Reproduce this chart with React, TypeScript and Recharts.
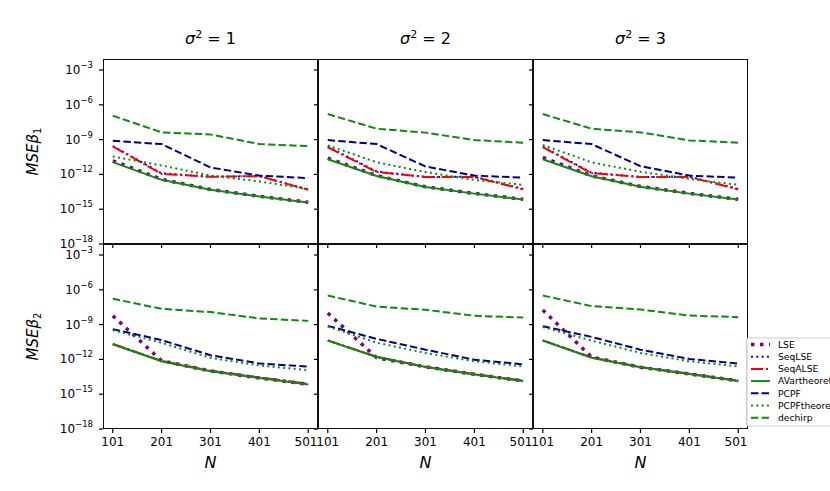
import { LineChart, Line, XAxis, YAxis } from "recharts";

// sample sizes on the x axis
const N = [101, 201, 301, 401, 501];
const Y_TICKS = [1e-18, 1e-15, 1e-12, 1e-9, 1e-6, 1e-3];

// each series: one row per panel, order
// [beta1 s2=1, beta1 s2=2, beta1 s2=3, beta2 s2=1, beta2 s2=2, beta2 s2=3]
const LSE = [
  [1.5e-11, 3.8e-13, 5.0e-14, 1.3e-14, 4.0e-15],
  [2.5e-11, 7.9e-13, 8.5e-14, 2.3e-14, 7.1e-15],
  [2.9e-11, 7.6e-13, 9.1e-14, 2.3e-14, 7.1e-15],
  [5.8e-9, 7.6e-13, 1.0e-13, 2.5e-14, 7.1e-15],
  [1.0e-8, 1.4e-12, 2.3e-13, 5.2e-14, 1.4e-14],
  [1.8e-8, 1.6e-12, 2.1e-13, 5.6e-14, 1.4e-14],
];
const SEQ_LSE = [
  [2.8e-10, 1.25e-12, 6.3e-13, 7.1e-13, 5.0e-14],
  [2.5e-10, 1.8e-12, 6.0e-13, 6.3e-13, 5.6e-14],
  [2.5e-10, 1.4e-12, 6.0e-13, 6.3e-13, 5.6e-14],
  [2.1e-11, 7.2e-13, 1.0e-13, 2.7e-14, 7.6e-15],
  [4.3e-11, 1.65e-12, 2.25e-13, 5.2e-14, 1.42e-14],
  [4.3e-11, 1.45e-12, 2.15e-13, 5.6e-14, 1.42e-14],
];
const SEQ_ALSE = [
  [2.6e-10, 1.1e-12, 6.3e-13, 7.1e-13, 4.7e-14],
  [2.2e-10, 1.6e-12, 6.0e-13, 6.0e-13, 5.1e-14],
  [2.2e-10, 1.26e-12, 6.0e-13, 6.0e-13, 5.1e-14],
  [2.2e-11, 7.4e-13, 1.05e-13, 2.8e-14, 7.9e-15],
  [4.4e-11, 1.7e-12, 2.3e-13, 5.4e-14, 1.45e-14],
  [4.4e-11, 1.5e-12, 2.2e-13, 5.8e-14, 1.45e-14],
];
const AVAR = [
  [1.15e-11, 3.4e-13, 4.7e-14, 1.26e-14, 3.8e-15],
  [2.0e-11, 7.4e-13, 8.1e-14, 2.2e-14, 6.9e-15],
  [2.0e-11, 6.9e-13, 8.7e-14, 2.2e-14, 6.9e-15],
  [2.0e-11, 6.9e-13, 9.5e-14, 2.5e-14, 6.8e-15],
  [4.2e-11, 1.6e-12, 2.2e-13, 5.1e-14, 1.4e-14],
  [4.2e-11, 1.4e-12, 2.1e-13, 5.5e-14, 1.4e-14],
];
const PCPF = [
  [7.9e-10, 4.1e-10, 4.0e-12, 7.9e-13, 4.8e-13],
  [9.1e-10, 4.1e-10, 4.8e-12, 7.9e-13, 5.2e-13],
  [9.1e-10, 4.1e-10, 5.1e-12, 7.9e-13, 5.2e-13],
  [4.1e-10, 4.6e-11, 2.3e-12, 4.4e-13, 2.4e-13],
  [7.8e-10, 5.9e-11, 6.9e-12, 9.5e-13, 3.8e-13],
  [7.2e-10, 8.7e-11, 6.9e-12, 1.1e-12, 4.3e-13],
];
const PCPF_THEO = [
  [3.5e-11, 5.9e-12, 7.9e-13, 2.5e-13, 5.4e-14],
  [3.2e-10, 1.1e-11, 1.6e-12, 3.3e-13, 1.26e-13],
  [3.4e-10, 1.1e-11, 1.7e-12, 4.1e-13, 1.26e-13],
  [3.3e-10, 2.7e-11, 1.35e-12, 3.0e-13, 1.2e-13],
  [6.8e-10, 2.8e-11, 3.6e-12, 6.9e-13, 2.5e-13],
  [6.3e-10, 4.2e-11, 3.6e-12, 6.9e-13, 2.5e-13],
];
const DECHIRP = [
  [1.15e-7, 4.2e-9, 2.8e-9, 4.1e-10, 2.75e-10],
  [1.6e-7, 8.7e-9, 4.0e-9, 9.1e-10, 5.4e-10],
  [1.6e-7, 8.7e-9, 4.2e-9, 8.5e-10, 5.4e-10],
  [1.7e-7, 2.3e-8, 1.2e-8, 3.4e-9, 2.1e-9],
  [3.2e-7, 3.6e-8, 1.9e-8, 5.8e-9, 4.1e-9],
  [3.2e-7, 3.9e-8, 2.0e-8, 6.0e-9, 4.4e-9],
];

const SIGMAS = ["1", "2", "3"];

const SERIES = [
  { key: "LSE", values: LSE, color: "#800080", width: 3.5, dash: "3.5 5.5" },
  { key: "SeqLSE", values: SEQ_LSE, color: "#0000ff", width: 2, dash: "2 3.3" },
  { key: "SeqALSE", values: SEQ_ALSE, color: "#ff0000", width: 2, dash: "12 3 2 3" },
  { key: "AVartheoretical", values: AVAR, color: "#108a10", width: 2, dash: undefined },
  { key: "PCPF", values: PCPF, color: "#00008b", width: 2, dash: "7.4 3.2" },
  { key: "PCPFtheoretical", values: PCPF_THEO, color: "#108a10", width: 2, dash: "2 3.3" },
  { key: "dechirp", values: DECHIRP, color: "#108a10", width: 2, dash: "7.4 3.2" },
];

const FONT = "DejaVu Sans, sans-serif";
const PW = 215;
const PH = 185;
const YW = 60;
const XH = 40;
const LEFTS = [103, 318, 533];
const TOPS = [59, 244];

function YTick(props: any) {
  const { x, y, payload, show } = props;
  if (!show) return <g />;
  const exp = Math.round(Math.log10(payload.value));
  return (
    <text x={x} y={y + 4} textAnchor="end" fontSize={12} fill="#000" fontFamily={FONT}>
      <tspan>10</tspan>
      <tspan dy={-6} fontSize={8.5}>{"\u2212" + Math.abs(exp)}</tspan>
    </text>
  );
}

function XTick(props: any) {
  const { x, y, payload, show } = props;
  if (!show) return <g />;
  return (
    <text x={x} y={y} dy="0.75em" textAnchor="middle" fontSize={12} fill="#000" fontFamily={FONT}>
      {payload.value}
    </text>
  );
}

function Panel({ idx, row, col }: { idx: number; row: number; col: number }) {
  const data = N.map((n, i) => {
    const r: any = { n };
    SERIES.forEach((s) => (r[s.key] = s.values[idx][i]));
    return r;
  });
  const left = LEFTS[col];
  const top = TOPS[row];
  return (
    <>
      <div style={{ position: "absolute", left: left - YW, top }}>
        <LineChart width={YW + PW} height={PH + XH} data={data} margin={{ top: 0, right: 0, bottom: 0, left: 0 }}>
          <XAxis
            dataKey="n"
            type="number"
            domain={[81, 521]}
            ticks={N}
            allowDataOverflow
            height={XH}
            axisLine={false}
            tickSize={4}
            tickMargin={4}
            tickLine={{ stroke: "#000", strokeWidth: 1.2 }}
            tick={<XTick show={row === 1} />}
          />
          <YAxis
            type="number"
            scale="log"
            domain={[1e-18, Math.pow(10, -2.05)]}
            ticks={Y_TICKS}
            allowDataOverflow
            width={YW}
            axisLine={false}
            tickSize={4}
            tickMargin={6}
            tickLine={{ stroke: "#000", strokeWidth: 1.2 }}
            tick={<YTick show={col === 0} />}
          />
          {SERIES.map((s) => (
            <Line
              key={s.key}
              dataKey={s.key}
              stroke={s.color}
              strokeWidth={s.width}
              strokeDasharray={s.dash}
              dot={false}
              activeDot={false}
              isAnimationActive={false}
            />
          ))}
        </LineChart>
      </div>
      <div
        style={{
          position: "absolute",
          left,
          top,
          width: PW,
          height: PH,
          border: "1.3px solid #111",
          boxSizing: "border-box",
          pointerEvents: "none",
        }}
      />
    </>
  );
}

function Legend() {
  const x0 = 746.5;
  const y0 = 338;
  return (
    <g>
      <rect x={x0} y={y0} width={110} height={88} fill="#fff" fillOpacity={0.9} stroke="#cccccc" strokeWidth={1} rx={2} />
      {SERIES.map((s, i) => {
        const y = 344.5 + i * 12.2;
        return (
          <g key={s.key}>
            <line x1={751} x2={770} y1={y} y2={y} stroke={s.color} strokeWidth={s.width} strokeDasharray={s.dash} />
            <text x={778} y={y + 3.3} fontSize={9.2} fontFamily={FONT} fill="#000">
              {s.key}
            </text>
          </g>
        );
      })}
    </g>
  );
}

export default function App() {
  const panels = [0, 1].flatMap((row) => [0, 1, 2].map((col) => ({ row, col, idx: row * 3 + col })));
  return (
    <div style={{ position: "absolute", left: 0, top: 0, width: 830, height: 491, overflow: "hidden", background: "#fff" }}>
      {panels.map((p) => (
        <Panel key={p.idx} idx={p.idx} row={p.row} col={p.col} />
      ))}
      <svg width={830} height={491} style={{ position: "absolute", left: 0, top: 0, pointerEvents: "none" }}>
        {LEFTS.map((l, i) => (
          <text key={"t" + i} x={l + PW / 2} y={44} textAnchor="middle" fontSize={16} fontFamily={FONT} fill="#000">
            <tspan fontStyle="italic">σ</tspan>
            <tspan dy={-6} fontSize={11}>2</tspan>
            <tspan dy={6}>{" = " + SIGMAS[i]}</tspan>
          </text>
        ))}
        {LEFTS.map((l, i) => (
          <text key={"n" + i} x={l + PW / 2} y={468} textAnchor="middle" fontSize={16} fontStyle="italic" fontFamily={FONT} fill="#000">
            N
          </text>
        ))}
        {TOPS.map((t, i) => {
          const cy = t + PH / 2;
          return (
            <text key={"y" + i} x={37.5} y={cy} transform={`rotate(-90, 37.5, ${cy})`} textAnchor="middle" fontSize={15} fontFamily={FONT} fill="#000">
              <tspan fontStyle="italic">MSEβ</tspan>
              <tspan dy={3} fontSize={10}>{String(i + 1)}</tspan>
            </text>
          );
        })}
        <Legend />
      </svg>
    </div>
  );
}
